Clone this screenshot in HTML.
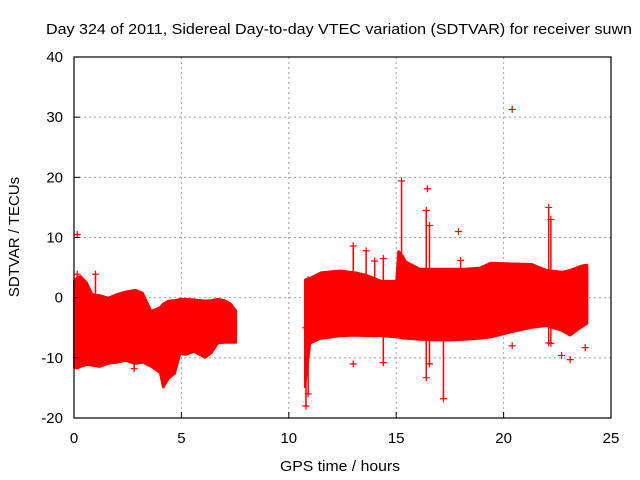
<!DOCTYPE html>
<html><head><meta charset="utf-8"><style>
body{margin:0;background:#fff}
svg{display:block}
text{font-family:"Liberation Sans",sans-serif;fill:#000}
</style></head><body>
<svg id="chart" width="640" height="480" viewBox="0 0 640 480" xmlns="http://www.w3.org/2000/svg">
<rect width="640" height="480" fill="#fff"/>
<text x="46" y="34" font-size="15" textLength="586" lengthAdjust="spacingAndGlyphs">Day 324 of 2011, Sidereal Day-to-day VTEC variation (SDTVAR) for receiver suwn</text>
<g id="grid"></g>
<g id="data"></g>
<g id="axes"></g>
<text x="0" y="0" font-size="15" text-anchor="middle" transform="translate(19,237) rotate(-90)">SDTVAR / TECUs</text>
<text x="340" y="471" font-size="15" text-anchor="middle" textLength="120" lengthAdjust="spacingAndGlyphs">GPS time / hours</text>
</svg>
<script>
const xTicks=[0,5,10,15,20,25];
const yTicks=[-20,-10,0,10,20,30,40];
// envelope segments: time, upper, lower
const seg1T=[0,0.15,0.3,0.6,0.85,1.2,1.6,2.0,2.4,2.85,3.2,3.6,4.0,4.15,4.4,4.7,4.95,5.2,5.6,6.1,6.4,6.7,7.0,7.3,7.55];
const seg1Up=[2.8,3.4,3.6,2.5,0.6,0.4,0,0.6,1.0,1.3,0.8,-2.2,-1.6,-1.0,-0.5,-0.4,-0.2,-0.2,-0.3,-0.5,-0.4,-0.2,-0.4,-1.0,-2.2];
const seg1Lo=[-11.6,-11.8,-11.5,-11.2,-11.3,-11.5,-11.0,-10.8,-10.5,-11.0,-10.8,-11.5,-12.5,-15,-13.5,-12.6,-9.3,-9.5,-9.0,-10,-9.2,-7.6,-7.5,-7.5,-7.5];
const seg2T=[10.75,11.0,11.5,12.0,12.4,13.1,13.6,14.3,15.0,15.1,15.3,15.45,16.1,16.8,17.5,18.2,18.9,19.4,20.3,21.3,22.0,22.7,23.1,23.6,23.9];
const seg2Up=[3.0,3.3,4.2,4.4,4.5,4.2,3.8,2.8,2.8,7.8,7.0,6.0,4.8,4.8,4.8,4.8,5.0,5.8,5.7,5.6,4.6,4.3,4.6,5.3,5.5];
const seg2Lo=[-15,-7.6,-6.8,-6.6,-6.4,-6.3,-6.4,-6.4,-6.6,-6.6,-6.8,-6.8,-7.0,-7.1,-7.1,-7.0,-6.8,-6.6,-5.8,-5.0,-4.7,-5.5,-6.3,-5.0,-4.3];
// spikes: time, min, max
const spikeT=[0.15,1.0,2.8,10.8,13.0,13.6,14.0,14.4,15.25,16.4,16.55,17.2,18.0,22.1,22.2,10.9];
const spikeMin=[0,-2,-11.8,-18,-4,-2,-2,-10.8,-3,-13.3,-11,-16.8,-6,-7.5,-7.6,-16];
const spikeMax=[3.9,3.9,0,-5,8.6,7.8,6.1,6.5,19.4,14.5,12,-5,6.2,15,13,3.0];
// isolated outlier points
const ptT=[0.15,16.45,17.9,20.4,13.0,22.7,23.1,23.8,20.4];
const ptV=[10.5,18.1,11.0,31.3,-11,-9.6,-10.3,-8.3,-8.0];

const X0=74,X1=611,Y0=418,Y1=57;
const sx=t=>X0+(t-0)/(25-0)*(X1-X0);
const sy=v=>Y0-(v+20)/60*(Y0-Y1);
const NS='http://www.w3.org/2000/svg';
function mk(tag,attrs,parent){const e=document.createElementNS(NS,tag);for(const k in attrs)e.setAttribute(k,attrs[k]);parent.appendChild(e);return e;}
const grid=document.getElementById('grid'),axes=document.getElementById('axes'),data=document.getElementById('data');
xTicks.forEach(t=>{
  if(t>0&&t<25){const l=mk('line',{x1:sx(t),x2:sx(t),y1:Y1,y2:Y0,stroke:'#a0a0a0','stroke-dasharray':'2,3'},grid);
  
  }
  const tk=mk('line',{x1:sx(t),x2:sx(t),y1:Y0,y2:Y0-6,stroke:'#000'},axes);
  
  
  const tx=mk('text',{x:sx(t),y:443,'font-size':15,'text-anchor':'middle'},axes);tx.textContent=t;
  
  
});
yTicks.forEach(v=>{
  if(v>-20&&v<40){const l=mk('line',{x1:X0,x2:X1,y1:sy(v),y2:sy(v),stroke:'#a0a0a0','stroke-dasharray':'2,3'},grid);
  
  }
  const tk=mk('line',{x1:X0,x2:X0+6,y1:sy(v),y2:sy(v),stroke:'#000'},axes);
  
  
  const tx=mk('text',{x:63,y:sy(v)+5,'font-size':15,'text-anchor':'end'},axes);tx.textContent=v;
  
  
});
const frame=mk('rect',{x:X0,y:Y1,width:X1-X0,height:Y0-Y1,fill:'none',stroke:'#000','stroke-width':1.2},axes);


function band(T,U,L,name){
  let pts=[];for(let i=0;i<T.length;i++)pts.push(sx(T[i])+','+sy(U[i]));
  for(let i=T.length-1;i>=0;i--)pts.push(sx(T[i])+','+sy(L[i]));
  const p=mk('polygon',{points:pts.join(' '),fill:'#ff0000',stroke:'#ff0000','stroke-width':2,'stroke-linejoin':'bevel'},data);
  
  
}
band(seg1T,seg1Up,seg1Lo,'data-band-early');
band(seg2T,seg2Up,seg2Lo,'data-band-late');
function plus(x,y){const p=mk('path',{d:`M${x-3.5},${y}h7M${x},${y-3.5}v7`,stroke:'#ff0000','stroke-width':1.2,fill:'none'},data);
  
  }
spikeT.forEach((t,i)=>{
  const x=sx(t);
  const l=mk('line',{x1:x,x2:x,y1:sy(spikeMin[i]),y2:sy(spikeMax[i]),stroke:'#ff0000','stroke-width':1.5},data);
  
  
  plus(x,sy(spikeMin[i]));plus(x,sy(spikeMax[i]));
});
ptT.forEach((t,i)=>plus(sx(t),sy(ptV[i])));
</script>
</body></html>
